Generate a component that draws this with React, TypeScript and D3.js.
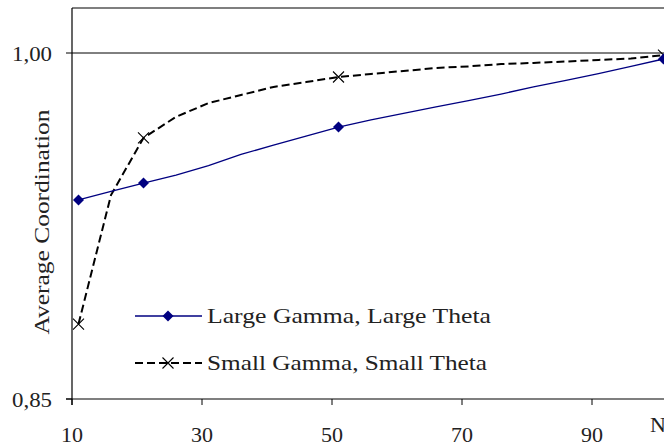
import * as d3 from "d3";

const nValues = [11, 16, 21, 26, 31, 36, 41, 46, 51, 56, 61, 66, 71, 76, 81, 86, 91, 96, 101];
const largeGammaLargeTheta = [
  0.9363, 0.94, 0.9436, 0.9471, 0.9512, 0.956, 0.9601, 0.964, 0.9679, 0.971, 0.9738,
  0.9766, 0.9794, 0.9822, 0.9853, 0.9881, 0.9911, 0.9942, 0.9974,
];
const smallGammaSmallTheta = [
  0.8825, 0.9384, 0.9632, 0.9723, 0.9783, 0.9818, 0.9853, 0.9874, 0.9896, 0.9909, 0.9922,
  0.9935, 0.9942, 0.9952, 0.9957, 0.9963, 0.997, 0.9976, 0.9991,
];
const markerN = [11, 21, 51, 101];
const xTicks = [10, 30, 50, 70, 90];
const yTicks = [0.85, 1.0];
const seriesNames = ["Large Gamma, Large Theta", "Small Gamma, Small Theta"];

const W = 664;
const H = 446;
const left = 72;
const top = 8;
const bottom = 399;
const font = "'Liberation Serif', 'Times New Roman', serif";

export default function App() {
  const x = d3.scaleLinear().domain([10, 90]).range([left, 592]);
  const y = d3.scaleLinear().domain([0.85, 1.0]).range([bottom, 53]);
  const fmt = (v: number) => d3.format(".2f")(v).replace(".", ",");

  const pts = (vals: number[]) => nValues.map((n, i) => [n, vals[i]] as [number, number]);
  const line = d3
    .line<[number, number]>()
    .x((d) => x(d[0]))
    .y((d) => y(d[1]));

  const blue = pts(largeGammaLargeTheta);
  const black = pts(smallGammaSmallTheta);
  const blueMarks = blue.filter((d) => markerN.includes(d[0]));
  const blackMarks = black.filter((d) => markerN.includes(d[0]));

  const diamond = (cx: number, cy: number, r = 5.5) =>
    `M${cx},${cy - r}L${cx + r},${cy}L${cx},${cy + r}L${cx - r},${cy}Z`;
  const cross = (cx: number, cy: number, r = 5.5) =>
    `M${cx - r},${cy - r}L${cx + r},${cy + r}M${cx - r},${cy + r}L${cx + r},${cy - r}`;

  return (
    <svg
      width={W}
      height={H}
      style={{ position: "absolute", left: 0, top: 0, background: "#fff" }}
      fontFamily={font}
    >
      {/* frame */}
      <line x1={left} x2={W} y1={top} y2={top} stroke="#555" strokeWidth={1.6} />
      <line x1={left} x2={W} y1={y(1.0)} y2={y(1.0)} stroke="#000" strokeWidth={1} />
      <line x1={left} x2={left} y1={top} y2={bottom + 6} stroke="#000" strokeWidth={1.2} />
      <line x1={left - 6} x2={W} y1={bottom} y2={bottom} stroke="#000" strokeWidth={1.2} />

      {yTicks.map((t) => (
        <g key={t}>
          <line x1={left - 6} x2={left} y1={y(t)} y2={y(t)} stroke="#000" />
          <text x={52} y={y(t) + 8} fontSize={22} textAnchor="end" fill="#222"
            textLength={40} lengthAdjust="spacingAndGlyphs">
            {fmt(t)}
          </text>
        </g>
      ))}
      {xTicks.map((t) => (
        <g key={t}>
          <line x1={x(t)} x2={x(t)} y1={bottom} y2={bottom + 6} stroke="#000" />
          <text x={x(t)} y={442} fontSize={22} textAnchor="middle" fill="#222">
            {t}
          </text>
        </g>
      ))}
      <text x={650} y={432} fontSize={22} fill="#222">
        N
      </text>
      <text
        transform={`translate(49,222) rotate(-90)`}
        fontSize={21}
        textAnchor="middle"
        fill="#222"
        textLength={225}
        lengthAdjust="spacingAndGlyphs"
      >
        Average Coordination
      </text>

      {/* series */}
      <path d={line(black) ?? ""} fill="none" stroke="#000" strokeWidth={2} strokeDasharray="8,4" />
      {blackMarks.map((d, i) => (
        <path key={i} d={cross(x(d[0]), y(d[1]))} stroke="#000" strokeWidth={1.1} fill="none" />
      ))}
      <path d={line(blue) ?? ""} fill="none" stroke="#000080" strokeWidth={1.3} />
      {blueMarks.map((d, i) => (
        <path key={i} d={diamond(x(d[0]), y(d[1]))} fill="#000080" />
      ))}

      {/* legend */}
      <line x1={135} x2={202} y1={316} y2={316} stroke="#000080" strokeWidth={1.3} />
      <path d={diamond(168, 316)} fill="#000080" />
      <text x={207} y={323} fontSize={22} fill="#222" textLength={284} lengthAdjust="spacingAndGlyphs">
        {seriesNames[0]}
      </text>
      <line x1={135} x2={202} y1={363} y2={363} stroke="#000" strokeWidth={2} strokeDasharray="8,4" />
      <path d={cross(168, 363)} stroke="#000" strokeWidth={1.1} fill="none" />
      <text x={207} y={370} fontSize={22} fill="#222" textLength={280} lengthAdjust="spacingAndGlyphs">
        {seriesNames[1]}
      </text>
    </svg>
  );
}
